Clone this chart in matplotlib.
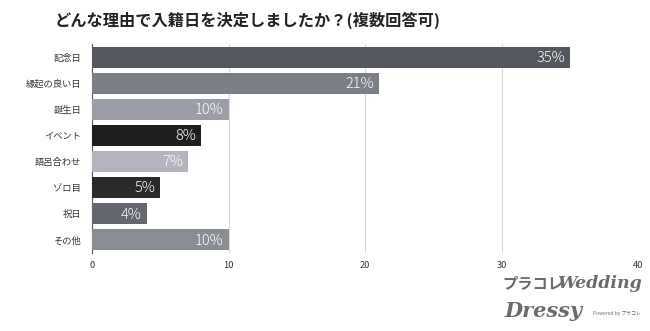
import matplotlib
matplotlib.use("Agg")
import matplotlib.pyplot as plt

plt.rcParams['font.family'] = ['Noto Sans CJK JP', 'DejaVu Sans']

title = "どんな理由で入籍日を決定しましたか？(複数回答可)"
categories = ["記念日", "縁起の良い日", "誕生日", "イベント", "語呂合わせ", "ゾロ目", "祝日", "その他"]
values = [35, 21, 10, 8, 7, 5, 4, 10]
bar_colors = ["#54575d", "#7b7e86", "#9b9ea6", "#1e1e1e", "#b4b4be", "#2a2a2a", "#64676d", "#898c93"]
x_ticks = [0, 10, 20, 30, 40]

fig = plt.figure(figsize=(6.5, 3.31), dpi=100)
ax = fig.add_axes([92 / 650, 1 - 253 / 331, (638 - 92) / 650, (253 - 44) / 331])

y = list(range(len(categories)))
ax.barh(y, values, height=0.8, color=bar_colors, zorder=3)
for yi, v in zip(y, values):
    ax.text(v - 0.35, yi + 0.03, f"{v}%", color="white", ha="right", va="center",
            fontsize=10.5, fontweight="light", zorder=4)

ax.set_xlim(0, 40)
ax.set_ylim(len(categories) - 0.5, -0.5)
ax.set_yticks(y)
ax.set_yticklabels(categories, fontsize=6.7, color="#333333")
ax.set_xticks(x_ticks)
ax.set_xticklabels([str(t) for t in x_ticks], fontsize=6.7, color="#333333")
ax.tick_params(length=0, pad=6)
ax.tick_params(axis='y', pad=8)
ax.grid(axis='x', color="#d9d9d9", linewidth=0.8, zorder=0)
for s in ["top", "right", "bottom"]:
    ax.spines[s].set_visible(False)
ax.spines["left"].set_linestyle((0, (1, 1)))
ax.spines["left"].set_color("#555555")
ax.spines["left"].set_linewidth(0.8)

fig.text(55 / 650, 1 - 20 / 331, title, fontsize=11.7, fontweight="bold",
         color="#222222", va="center", ha="left")

# brand marks in the lower-right corner
fig.text(502 / 650, 1 - 283 / 331, "プラコレ", fontsize=11, fontweight="bold",
         color="#6e6a6a", va="center", ha="left")
fig.text(557 / 650, 1 - 283 / 331, "Wedding", fontsize=12.5, fontweight="bold",
         fontstyle="italic", family="DejaVu Serif", color="#6e6a6a", va="center", ha="left")
fig.text(504 / 650, 1 - 311 / 331, "Dressy", fontsize=15, fontweight="bold",
         fontstyle="italic", family="DejaVu Serif", color="#6e6a6a", va="center", ha="left")
fig.text(593 / 650, 1 - 314 / 331, "Powered by プラコレ", fontsize=3.5,
         color="#6e6a6a", va="center", ha="left")

fig.savefig("out.png", dpi=100, facecolor="white")
